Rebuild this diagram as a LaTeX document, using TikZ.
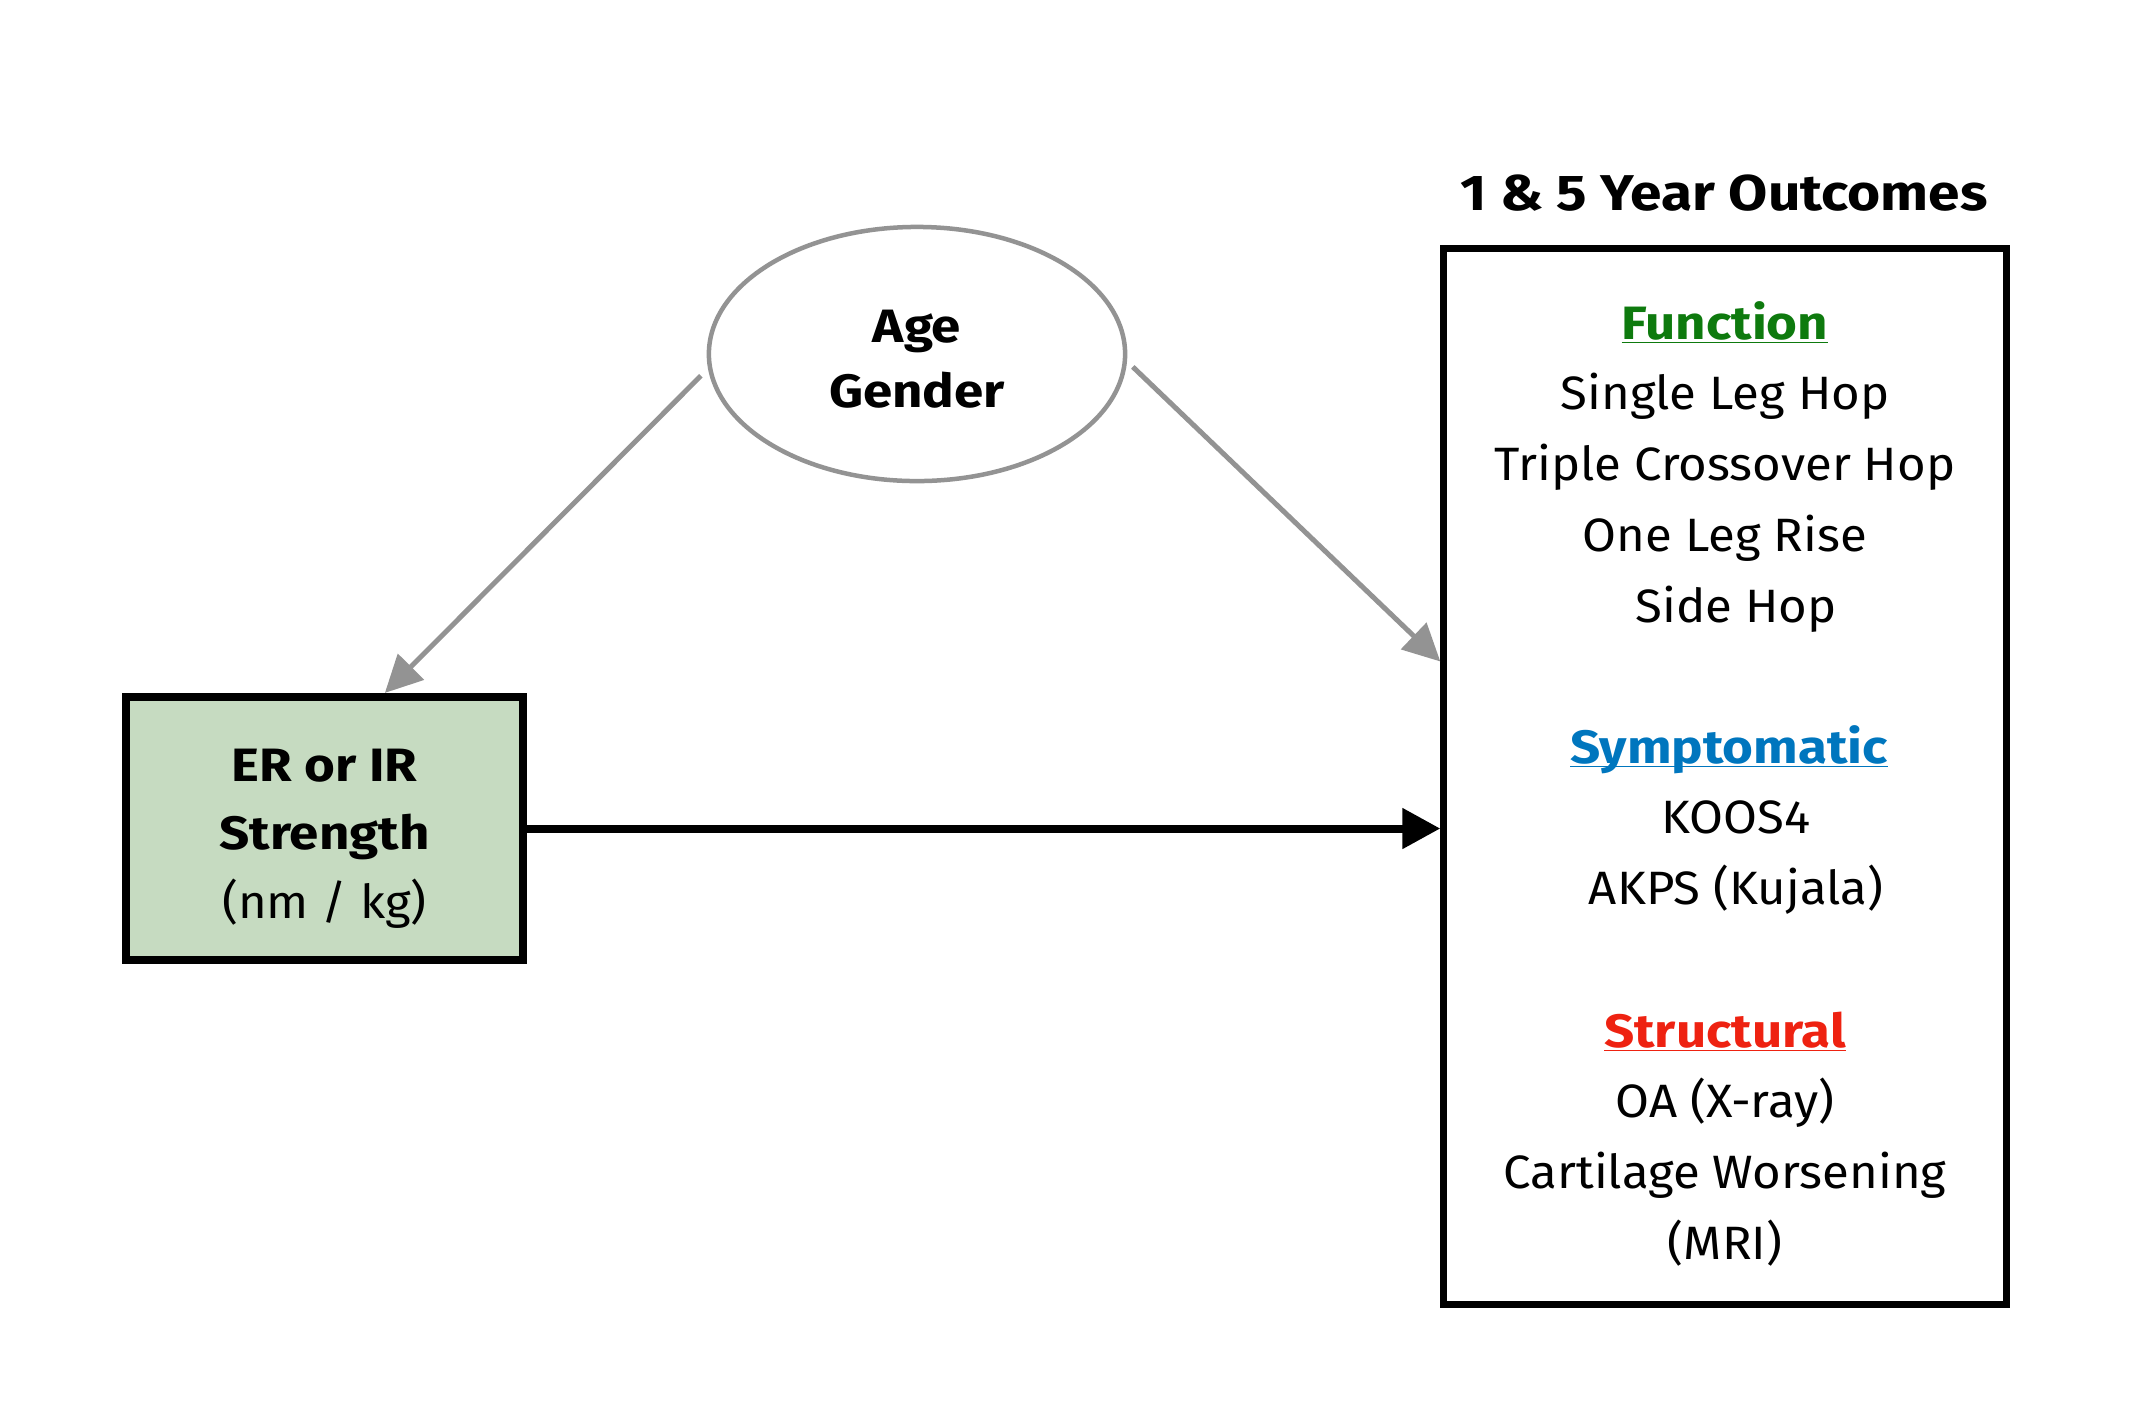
\documentclass[tikz,border=0pt]{standalone}
\usepackage{fontspec}
\setmainfont{Fira Sans}[FakeStretch=1.05, BoldFeatures={FakeStretch=1.13}]
\usepackage{tikz}
\usetikzlibrary{arrows.meta, shapes.geometric, calc}

\definecolor{arrowgray}{RGB}{147,147,147}
\definecolor{strengthfill}{RGB}{198,219,193}
\definecolor{fngreen}{RGB}{14,122,14}
\definecolor{sympblue}{RGB}{0,118,190}
\definecolor{structred}{RGB}{238,34,17}

\newcommand{\ulword}[1]{\setbox0\hbox{#1}\rlap{\rule[-1.2pt]{\wd0}{0.45pt}}\box0}
\newcommand{\topstrut}{\rule{0pt}{12pt}}

\tikzset{
  item/.style={anchor=base, inner sep=0pt, font=\fontsize{13.3}{20}\selectfont},
  head/.style={item, font=\fontsize{13.3}{20}\selectfont\bfseries},
  grayarrow/.style={arrowgray, line width=0.05cm, -{Triangle[length=0.37cm, width=0.36cm]}}
}

\begin{document}
\begin{tikzpicture}[x=0.01cm, y=-0.01cm]
        \useasboundingbox (0,0) rectangle (2129,1420);

        \node[ellipse, draw=arrowgray, line width=0.045cm, minimum width=4.16cm, minimum height=2.54cm,
              inner sep=0pt, align=center, font=\fontsize{13.3}{18.5}\selectfont\bfseries] (age) at (917,354) {\topstrut Age\\Gender};

        \node[rectangle, draw=black, fill=strengthfill, line width=0.08cm, minimum width=3.97cm, minimum height=2.63cm,
              align=center, text depth=0pt, font=\fontsize{13.3}{19.5}\selectfont] (strength) at (324.5,828.5)
              {\topstrut\textbf{ER or IR}\\\textbf{Strength}\\(nm / kg)};

        \node[rectangle, draw=black, line width=0.07cm, minimum width=5.62cm, minimum height=10.55cm] (outbox) at (1725,776.5) {};
        \node[anchor=base, inner sep=0pt, font=\fontsize{14.3}{17}\selectfont\bfseries] (title) at (1724,210) {1 \& 5 Year Outcomes};

        \node[head, text=fngreen] (function) at (1725,339) {\ulword{Function}};
        \foreach \txt [count=\i] in {Single Leg Hop, Triple Crossover Hop, One Leg Rise}
            \node[item] (function\i) at (1725,{339+70.7*\i}) {\txt};
        \node[item] (function4) at (1736,622) {Side Hop};

        \node[head, text=sympblue] (symptomatic) at (1729,763) {\ulword{Symptomatic}};
        \foreach \txt [count=\i] in {KOOS4, AKPS (Kujala)}
            \node[item] (symptomatic\i) at (1736,{763+70.7*\i}) {\txt};

        \node[head, text=structred] (structural) at (1725,1047) {\ulword{Structural}};
        \foreach \txt [count=\i] in {OA (X-ray), Cartilage Worsening, (MRI)}
            \node[item] (structural\i) at (1725,{1047+70.7*\i}) {\txt};

        \draw[grayarrow, shorten <=0.1cm] (age.184) -- (strength.66.6);
        \draw[grayarrow, shorten <=0.08cm] (age.358) -- (outbox.158.5);
        \draw[line width=0.08cm, -{Triangle[length=0.38cm, width=0.39cm]}] (strength.east) -- (strength.east -| outbox.west);
\end{tikzpicture}
\end{document}
